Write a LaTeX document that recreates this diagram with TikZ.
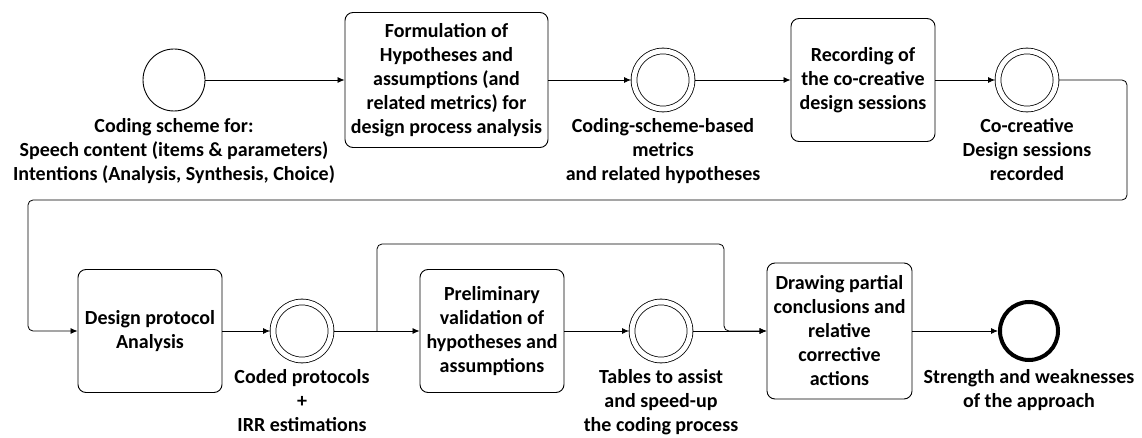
\documentclass[tikz,border=0pt]{standalone}
\usepackage{fontspec}
\setmainfont{Carlito}
\usetikzlibrary{arrows.meta}
\begin{document}
\begin{tikzpicture}[x=1pt,y=-1pt,
  txt/.style={font=\fontsize{20}{24}\selectfont\bfseries},
  box/.style={txt, draw, rounded corners=8pt, line width=0.9pt, align=center, inner sep=0pt},
  evt/.style={draw, circle, line width=0.9pt, minimum size=62pt, inner sep=0pt},
  mid/.style={draw, circle, double, double distance=5pt, line width=0.8pt, minimum size=58pt, inner sep=0pt, outer sep=3pt},
  endevt/.style={draw, circle, line width=4pt, minimum size=58pt, inner sep=0pt},
  lbl/.style={txt, align=center, anchor=north, inner sep=0pt},
  flow/.style={-{Latex[length=7pt,width=6pt]}, line width=0.8pt}]
\useasboundingbox (0,0) rectangle (1142,438);

% row 1
\node[evt] (s) at (174,80) {};
\node[lbl] (sl) at (174,118) {Coding scheme for:\\Speech content (items \& parameters)\\Intentions (Analysis, Synthesis, Choice)};
\node[box, minimum width=203pt, minimum height=135pt] (b1) at (446.5,80) {Formulation of\\Hypotheses and\\assumptions (and\\related metrics) for\\design process analysis};
\node[mid] (c2) at (663,80) {};
\node[lbl] (c2l) at (663,118) {Coding-scheme-based\\metrics\\and related hypotheses};
\node[box, minimum width=144pt, minimum height=123pt] (b3) at (863,80) {Recording of\\the co-creative\\design sessions};
\node[mid] (c3) at (1027,80) {};
\node[lbl] (c3l) at (1027,118) {Co-creative\\Design sessions\\recorded};

% row 2
\node[box, minimum width=144pt, minimum height=123pt] (b4) at (150,331) {Design protocol\\Analysis};
\node[mid] (c4) at (302,331) {};
\node[lbl] (c4l) at (302,369) {Coded protocols\\+\\IRR estimations};
\node[box, minimum width=144pt, minimum height=123pt] (b5) at (492,331) {Preliminary\\validation of\\hypotheses and\\assumptions};
\node[mid] (c5) at (661,331) {};
\node[lbl] (c5l) at (661,369) {Tables to assist\\and speed-up\\the coding process};
\node[box, minimum width=145pt, minimum height=136pt] (b6) at (839.5,331) {Drawing partial\\conclusions and\\relative\\corrective\\actions};
\node[endevt] (e) at (1029,331) {};
\node[lbl] (el) at (1029,369) {Strength and weaknesses\\of the approach};

% connectors
\draw[flow] (s) -- (b1);
\draw[flow] (b1) -- (c2);
\draw[flow] (c2) -- (b3);
\draw[flow] (b3) -- (c3);
\coordinate (r1) at (1127,200);
\coordinate (r2) at (28,200);
\draw[flow, rounded corners=5pt] (c3.east) -| (r1) -- (r2) |- (b4.west);
\draw[flow] (b4) -- (c4);
\draw[flow] (c4) -- (b5);
\draw[flow] (b5) -- (c5);
\draw[flow] (c5) -- (b6);
\draw[flow] (b6) -- (e);
\coordinate (k) at (377,331);
\coordinate (k2) at (724,244);
\draw[flow, rounded corners=5pt] (k) |- (k2) |- (b6.west);
\end{tikzpicture}
\end{document}
